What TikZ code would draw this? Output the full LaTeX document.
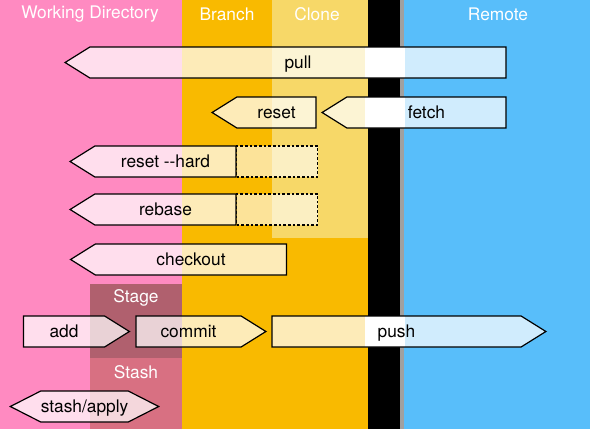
\documentclass[tikz,border=0pt]{standalone}
\usepackage{fontspec}
\setmainfont{TeX Gyre Heros}
\usetikzlibrary{shapes.symbols,positioning}
\definecolor{workpink}{RGB}{255,138,193}
\definecolor{branchorange}{RGB}{249,186,0}
\definecolor{cloneyellow}{RGB}{247,216,104}
\definecolor{remoteblue}{RGB}{88,190,250}
\definecolor{stagered}{RGB}{176,96,110}
\definecolor{stashrose}{RGB}{216,112,130}
\definecolor{bargrey}{RGB}{160,160,160}
\begin{document}
\begin{tikzpicture}[x=0.75pt,y=-0.75pt,
    font=\fontsize{13}{15}\selectfont,
    area/.style = {white},
    cmd/.style = {shape=signal, draw, line width=0.9pt,
      fill=white, fill opacity=0.72, text opacity=1,
      minimum height=23.25pt, inner sep=0pt,
      text height=9.8pt, text depth=1.2pt,
      signal pointer angle=64},
    left cmd/.style = {cmd, signal to=west},
    right cmd/.style = {cmd, signal to=east},
    ghost/.style = {shape=rectangle, draw, line width=0.9pt,
      dash pattern=on 2pt off 1.5pt, fill=white, fill opacity=0.6,
      minimum width=60.75pt, minimum height=23.25pt}]
  \useasboundingbox (0,0) rectangle (590,429);
  % areas
  \fill[workpink] (0,0) rectangle (182,429);
  \fill[branchorange] (182,0) rectangle (368,429);
  \fill[cloneyellow] (272,0) rectangle (368,238);
  \fill[black] (368,0) rectangle (400,429);
  \fill[bargrey] (400,0) rectangle (404,429);
  \fill[remoteblue] (404,0) rectangle (590,429);
  \fill[stagered] (90,284) rectangle (182,358);
  \fill[stashrose] (90,358) rectangle (182,429);
  % gaps in the bar
  \foreach \top/\bot in {47/78, 97/128, 316/347}
    \fill[white] (365,\top) rectangle (405,\bot);
  % titles
  \node[area] (wd) at (90,14) {Working Directory};
  \node[area] (branch) at (227,14) {Branch};
  \node[area] (clone) at (317,14) {Clone};
  \node[area] (remote) at (498,14) {Remote};
  \node[area] (stage) at (136,298) {Stage};
  \node[area] (stash) at (136,372) {Stash};
  % commands
  \node[left cmd, minimum width=330.75pt] (pull) at (298,62.5) {pull};
  \node[left cmd, minimum width=78pt] (reset) at (276.5,112.5) {reset};
  \node[left cmd, minimum width=138pt] (fetch) at (426.5,112.5) {fetch};
  \node[ghost, anchor=west] (resethardbox) at (236,161.5) {};
  \node[left cmd, minimum width=124.5pt] (resethard) at (165.5,161.5) {reset -{}-hard};
  \node[ghost, anchor=west] (rebasebox) at (236,209.5) {};
  \node[left cmd, minimum width=124.5pt] (rebase) at (165.5,209.5) {rebase};
  \node[left cmd, minimum width=162pt] (checkout) at (191,259.5) {checkout};
  \node[right cmd, minimum width=79.5pt] (add) at (64,331.5) {add};
  \node[right cmd, minimum width=97.5pt] (commit) at (188.5,331.5) {commit};
  \node[right cmd, minimum width=205.5pt] (push) at (396.5,331.5) {push};
  \node[cmd, signal to=east and west, signal pointer angle=54,
    minimum width=111pt] (stashapply) at (84.5,406.5) {stash/apply};
\end{tikzpicture}
\end{document}
